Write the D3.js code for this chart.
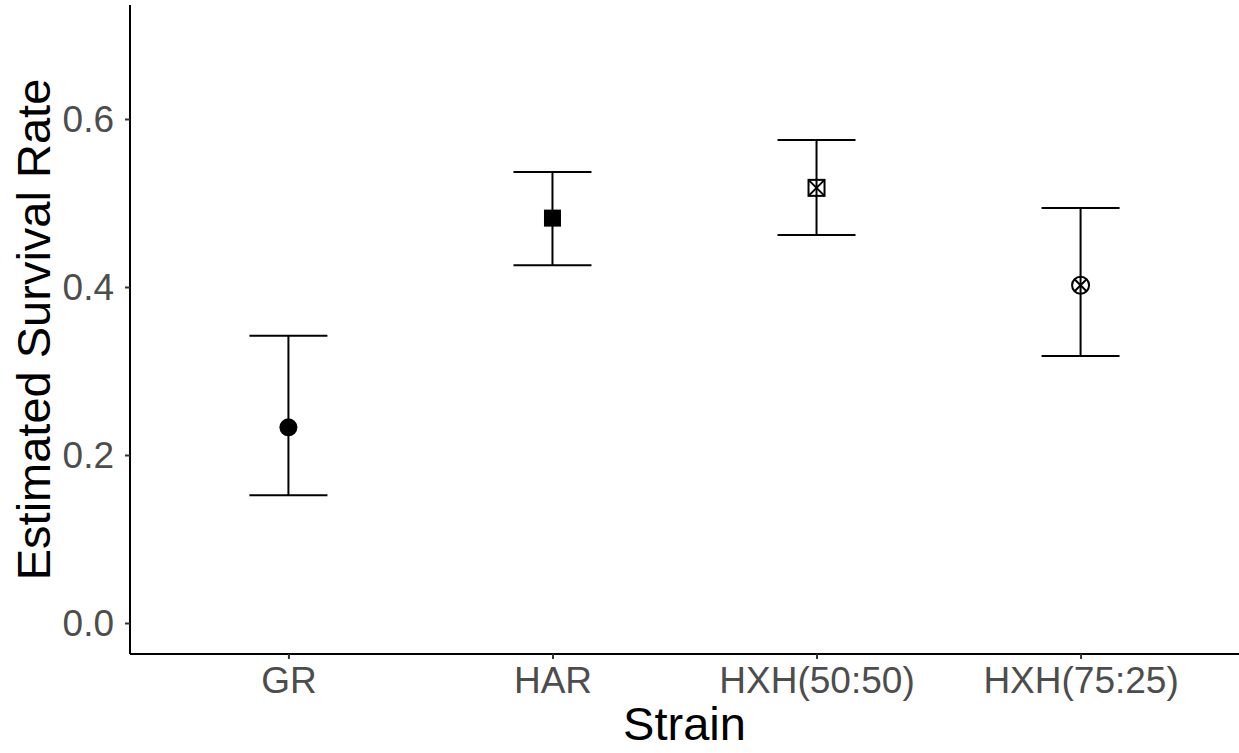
<!DOCTYPE html>
<html><head><meta charset="utf-8">
<script src="https://cdn.jsdelivr.net/npm/d3@7"></script>
<style>body{margin:0;background:#fff}</style>
</head><body>
<svg id="c" width="1239" height="753"></svg>
<script>
const categories = ["GR", "HAR", "HXH(50:50)", "HXH(75:25)"];
const estimates = [0.233, 0.482, 0.518, 0.402];
const lowers = [0.152, 0.426, 0.462, 0.318];
const uppers = [0.342, 0.537, 0.575, 0.494];
const shapes = ["circle", "square", "squareX", "circleX"];
const yTicks = [0.0, 0.2, 0.4, 0.6];

(function () {
const svg = d3.select("#c");
const pL = 130, pR = 1239, pT = 5, pB = 654;
const font = "Liberation Sans, Arial, sans-serif";
const x = d3.scalePoint().domain(categories).range([pL, pR]).padding(0.6);
const y = d3.scaleLinear().domain([-0.0369, 0.7357]).range([pB, pT]);

const yAxis = svg.append("g").attr("transform", `translate(${pL},0)`)
  .call(d3.axisLeft(y).tickValues(yTicks).tickFormat(d3.format(".1f")).tickSize(5).tickSizeOuter(0));
const xAxis = svg.append("g").attr("transform", `translate(0,${pB})`)
  .call(d3.axisBottom(x).tickSize(5).tickSizeOuter(0));
[yAxis, xAxis].forEach(g => {
  g.select(".domain").attr("stroke", "#000").attr("stroke-width", 2);
  g.selectAll(".tick line").attr("stroke", "#333").attr("stroke-width", 2);
  g.selectAll(".tick text").attr("fill", "#4D4D4D").attr("font-family", font).attr("font-size", 37);
});
yAxis.selectAll(".tick text").attr("x", -16).attr("dy", "0.35em");
xAxis.selectAll(".tick text").attr("y", 39).attr("dy", "0");
yAxis.select(".domain").attr("d", `M0,${pT}V${pB}`);
xAxis.select(".domain").attr("d", `M${pL},0H${pR}`);

const capW = 39;
const g = svg.append("g");
categories.forEach((c, i) => {
  const cx = x(c);
  g.append("line").attr("x1", cx).attr("x2", cx).attr("y1", y(uppers[i])).attr("y2", y(lowers[i])).attr("stroke", "#000").attr("stroke-width", 2);
  [uppers[i], lowers[i]].forEach(v => {
    g.append("line").attr("x1", cx - capW).attr("x2", cx + capW).attr("y1", y(v)).attr("y2", y(v)).attr("stroke", "#000").attr("stroke-width", 2);
  });
  const cy = y(estimates[i]);
  const s = shapes[i];
  if (s === "circle") {
    g.append("circle").attr("cx", cx).attr("cy", cy).attr("r", 9).attr("fill", "#000");
  } else if (s === "square") {
    g.append("rect").attr("x", cx - 8.5).attr("y", cy - 8.5).attr("width", 17).attr("height", 17).attr("fill", "#000");
  } else if (s === "squareX") {
    const h = 8;
    g.append("rect").attr("x", cx - h).attr("y", cy - h).attr("width", 2*h).attr("height", 2*h).attr("fill", "none").attr("stroke", "#000").attr("stroke-width", 2);
    g.append("path").attr("d", `M${cx-h},${cy-h}L${cx+h},${cy+h}M${cx-h},${cy+h}L${cx+h},${cy-h}`).attr("stroke", "#000").attr("stroke-width", 2);
  } else {
    const r = 8.5, d = r * Math.SQRT1_2;
    g.append("circle").attr("cx", cx).attr("cy", cy).attr("r", r).attr("fill", "none").attr("stroke", "#000").attr("stroke-width", 2);
    g.append("path").attr("d", `M${cx-d},${cy-d}L${cx+d},${cy+d}M${cx-d},${cy+d}L${cx+d},${cy-d}`).attr("stroke", "#000").attr("stroke-width", 2);
  }
});

svg.append("text").attr("x", (pL + pR) / 2).attr("y", 740).attr("text-anchor", "middle")
  .attr("font-family", font).attr("font-size", 47).attr("fill", "#000").text("Strain");
svg.append("text").attr("transform", `translate(50,${(pT + pB) / 2}) rotate(-90)`).attr("text-anchor", "middle")
  .attr("font-family", font).attr("font-size", 47).attr("fill", "#000").text("Estimated Survival Rate");
})();
</script>
</body></html>
